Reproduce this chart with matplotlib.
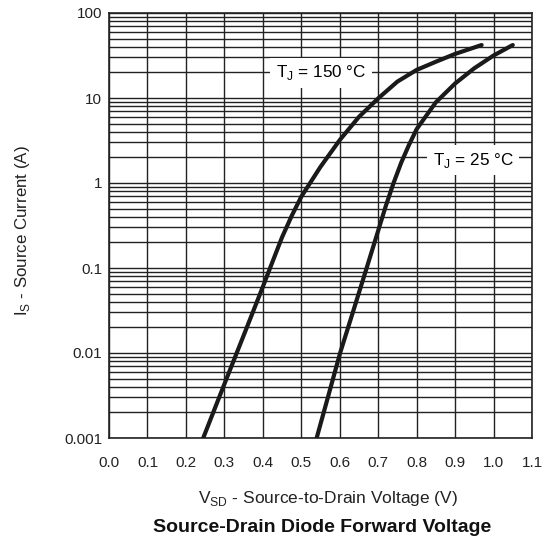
import matplotlib
matplotlib.use('Agg')
import matplotlib.pyplot as plt
import numpy as np
from matplotlib.ticker import LogLocator, FixedLocator, NullFormatter

plt.rcParams['font.family'] = ['Liberation Sans', 'DejaVu Sans']

# values (V, A)
v_150 = [0.245, 0.30, 0.325, 0.35, 0.40, 0.417, 0.45, 0.475, 0.50, 0.55, 0.60, 0.65, 0.70, 0.75, 0.80, 0.85, 0.90, 0.969]
i_150 = [0.001, 0.0043, 0.0083, 0.016, 0.06, 0.095, 0.23, 0.41, 0.69, 1.55, 3.2, 6.0, 9.9, 15.6, 21.4, 26.7, 33.0, 42.0]
v_25 = [0.54, 0.57, 0.601, 0.635, 0.67, 0.70, 0.72, 0.74, 0.76, 0.78, 0.80, 0.85, 0.90, 0.95, 1.0, 1.05]
i_25 = [0.001, 0.0031, 0.01, 0.031, 0.1, 0.275, 0.54, 1.0, 1.74, 2.8, 4.3, 8.9, 14.8, 22.4, 31.6, 42.0]

x_ticks = [0.0, 0.1, 0.2, 0.3, 0.4, 0.5, 0.6, 0.7, 0.8, 0.9, 1.0, 1.1]
y_ticks = [0.001, 0.01, 0.1, 1, 10, 100]
y_labels = ['0.001', '0.01', '0.1', '1', '10', '100']

fig = plt.figure(figsize=(5.47, 5.5), dpi=100)
ax = fig.add_axes([109/547, 1 - 438/550, (532-109)/547, (438-13)/550])

ax.set_yscale('log')
ax.set_xlim(0, 1.1)
ax.set_ylim(0.001, 100)

ax.xaxis.set_major_locator(FixedLocator(x_ticks))
ax.set_xticklabels(['%.1f' % t for t in x_ticks])
ax.yaxis.set_major_locator(FixedLocator(y_ticks))
ax.set_yticklabels(y_labels)
ax.yaxis.set_minor_locator(LogLocator(base=10, subs=np.arange(2, 10)))
ax.yaxis.set_minor_formatter(NullFormatter())
ax.tick_params(which='both', length=0, labelsize=11, colors='#222222')
ax.tick_params(axis='x', pad=13)
ax.tick_params(axis='y', pad=5)

ax.grid(True, which='major', axis='both', color='#222222', lw=1.0)
ax.grid(True, which='minor', axis='y', color='#222222', lw=1.0)
for s in ax.spines.values():
    s.set_color('#222222')
    s.set_linewidth(1.2)

ax.plot(v_150, i_150, color='#1a1a1a', lw=3.0, solid_capstyle='round', solid_joinstyle='round', zorder=3)
ax.plot(v_25, i_25, color='#1a1a1a', lw=3.0, solid_capstyle='round', solid_joinstyle='round', zorder=3)

box = dict(facecolor='white', edgecolor='none', pad=4)
ax.text(0.551, 19.7, r'T$_\mathregular{J}$ = 150 °C', fontsize=12.3, ha='center', va='center', bbox=box, zorder=4)
ax.text(0.947, 1.86, r'T$_\mathregular{J}$ = 25 °C', fontsize=12.3, ha='center', va='center', bbox=box, zorder=4)

ax.set_ylabel(r'I$_\mathregular{S}$ - Source Current (A)', fontsize=12.2, color='#222222')
ax.yaxis.set_label_coords(-0.182, 0.489)
ax.set_xlabel(r'V$_\mathregular{SD}$ - Source-to-Drain Voltage (V)', fontsize=12.5, color='#222222')
ax.xaxis.set_label_coords(0.518, -0.12)
fig.text(322/547, 1 - 527/550, 'Source-Drain Diode Forward Voltage', fontsize=14, fontweight='bold',
         ha='center', va='center', color='#111111')

fig.savefig('out.png', dpi=100)
